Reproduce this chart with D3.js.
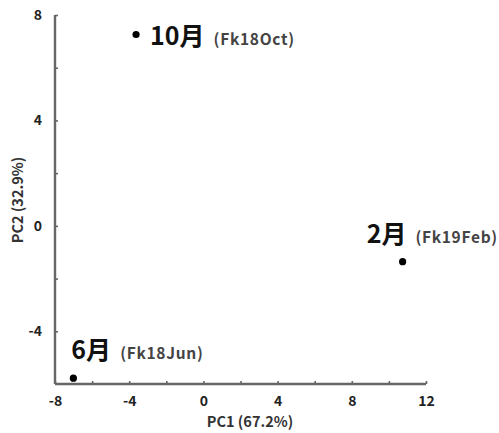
<!DOCTYPE html>
<html>
<head>
<meta charset="utf-8">
<script src="https://d3js.org/d3.v7.min.js"></script>
<style>
    body { margin: 0; background: #fff; }
    text { font-family: "Noto Sans CJK JP", "Noto Sans", sans-serif; }
    .axis path, .axis line { stroke: #666; }
    .axis path { stroke-width: 2.4px; }
    .axis line { stroke-width: 1.6px; }
    .axis text { font-size: 14px; font-weight: bold; fill: #222; }
    .title { font-size: 14.5px; font-weight: bold; fill: #333; }
    .lab { font-size: 25px; font-weight: bold; fill: #111; }
    .sub { font-size: 15.5px; font-weight: bold; fill: #444; letter-spacing: 0.7px; }
</style>
</head>
<body>
<script>
    // PCA scores
    var months = ["10月", "2月", "6月"];
    var codes = ["(Fk18Oct)", "(Fk19Feb)", "(Fk18Jun)"];
    var pc1 = [-3.63, 10.74, -7.01];
    var pc2 = [7.26, -1.36, -5.78];

    var xTicks = [-8, -6, -4, -2, 0, 2, 4, 6, 8, 10, 12];
    var yTicks = [-4, -2, 0, 2, 4, 6, 8];
    var xLabel = "PC1 (67.2%)";
    var yLabel = "PC2 (32.9%)";

    var width = 499, height = 433;

    var x = d3.scaleLinear().domain([-8, 12]).range([55, 426]);
    var y = d3.scaleLinear().domain([-6, 8]).range([384, 15]);

    var svg = d3.select("body").append("svg")
        .attr("width", width)
        .attr("height", height);

    var fmt = function(d) { return d % 4 === 0 ? String(d) : ""; };

    svg.append("g")
        .attr("class", "axis")
        .attr("transform", "translate(0," + y(-6) + ")")
        .call(d3.axisBottom(x).tickValues(xTicks).tickFormat(fmt)
            .tickSizeInner(-3).tickSizeOuter(0).tickPadding(12))
        .call(function(g) { g.select(".domain").attr("d", "M" + x(-8) + ",0H" + x(12)); });

    svg.append("g")
        .attr("class", "axis")
        .attr("transform", "translate(" + x(-8) + ",0)")
        .call(d3.axisLeft(y).tickValues(yTicks).tickFormat(fmt)
            .tickSizeInner(-3).tickSizeOuter(0).tickPadding(13))
        .call(function(g) { g.select(".domain").attr("d", "M0," + y(-6) + "V" + y(8)); });

    svg.append("text")
        .attr("class", "title")
        .attr("x", 250)
        .attr("y", 427)
        .attr("text-anchor", "middle")
        .text(xLabel);

    svg.append("text")
        .attr("class", "title")
        .attr("transform", "translate(23,200) rotate(-90)")
        .attr("text-anchor", "middle")
        .text(yLabel);

    // label offsets relative to each point (pixels)
    var offs = [[14, 10], [-36, -19], [-2, -19]];

    months.forEach(function(m, i) {
        var px = x(pc1[i]), py = y(pc2[i]);
        svg.append("circle")
            .attr("cx", px)
            .attr("cy", py)
            .attr("r", 3.6)
            .attr("fill", "#000");

        var t = svg.append("text")
            .attr("x", px + offs[i][0])
            .attr("y", py + offs[i][1]);
        t.append("tspan").attr("class", "lab").text(m);
        t.append("tspan").attr("class", "sub").attr("dx", 9).text(codes[i]);
    });
</script>
</body>
</html>
